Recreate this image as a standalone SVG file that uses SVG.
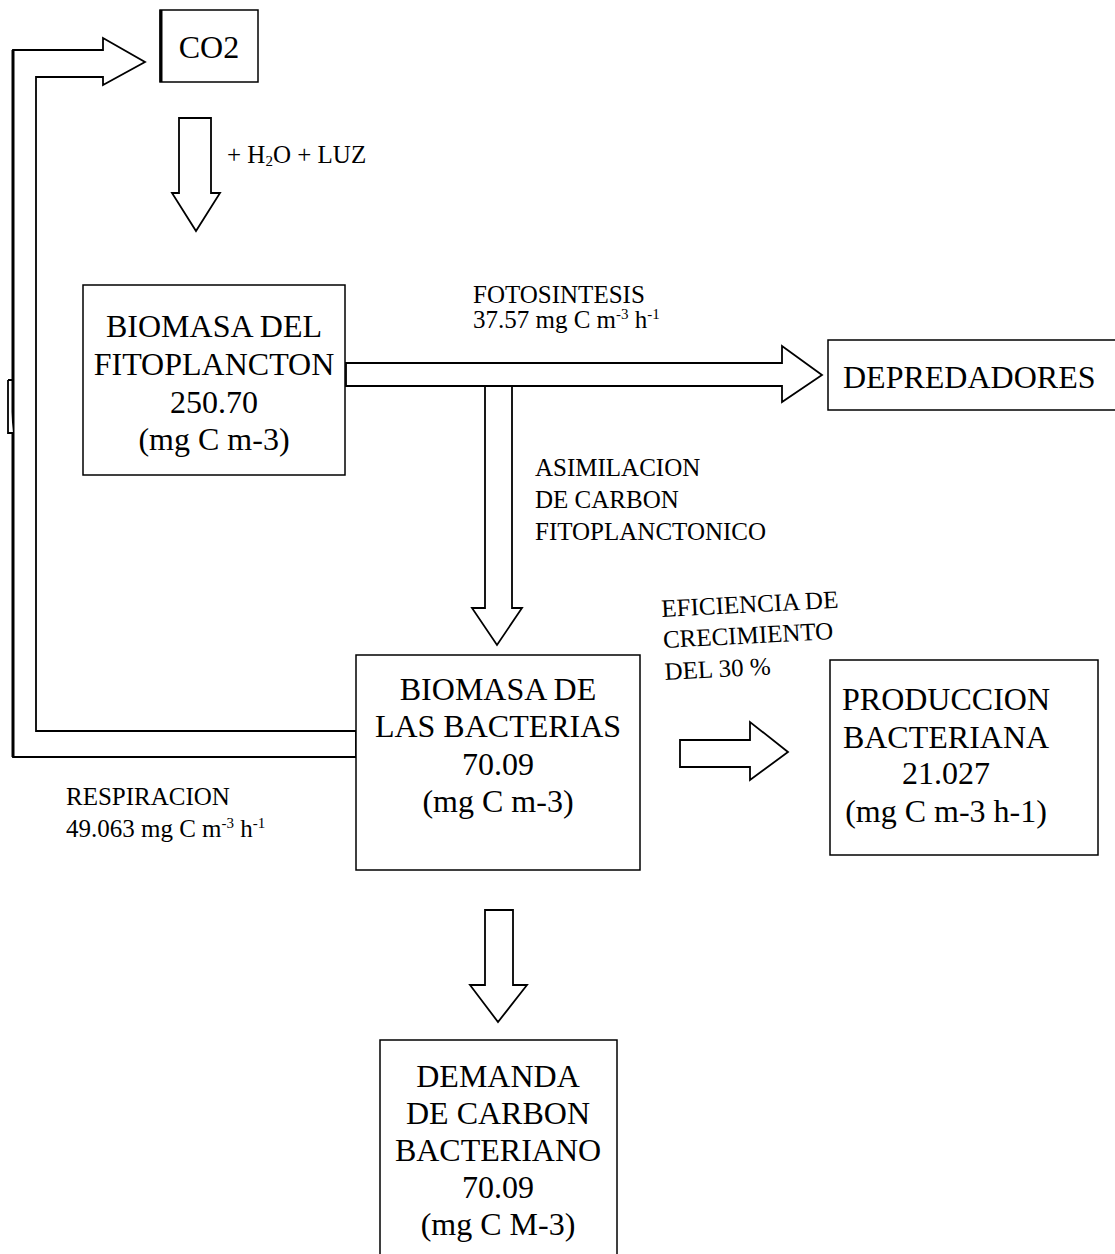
<svg xmlns="http://www.w3.org/2000/svg" width="1115" height="1254" viewBox="0 0 1115 1254">
<style>
.box{fill:#fff;stroke:#000;stroke-width:1.5}
.arrow{fill:#fff;stroke:#000;stroke-width:1.8;stroke-linejoin:miter}
.t{font-family:"Liberation Serif","Times New Roman",serif;fill:#000}
.big{font-size:32px}
.mid{font-size:25px}
.sup{font-size:15px}
.c{text-anchor:middle}
</style>
<rect width="1115" height="1254" fill="#fff"/>
<g id="connectors">
  <path class="arrow" d="M13,757 L13,50 L103,50 L103,38 L145,62 L103,85 L103,77 L36,77 L36,731 L356,731 L356,757 Z"/>
  <line x1="13" y1="50" x2="13" y2="757" stroke="#000" stroke-width="3"/>
  <path class="arrow" d="M8,380 L13,380 M8,380 L8,433 L13,433" fill="none"/>
  <path class="arrow" d="M179,118 L211,118 L211,193 L220,193 L196,231 L172,193 L179,193 Z"/>
  <path class="arrow" d="M346,363 L782,363 L782,346 L822,375 L782,402 L782,386 L346,386 Z"/>
  <path class="arrow" d="M485,386 L512,386 L512,608 L522,608 L497,645 L472,608 L485,608 Z"/>
  <path class="arrow" d="M680,740 L750,740 L750,722 L788,752 L750,780 L750,767 L680,767 Z"/>
  <path class="arrow" d="M485,910 L513,910 L513,985 L527,985 L498,1022 L470,985 L485,985 Z"/>
</g>
<g id="co2">
  <rect class="box" x="160" y="10" width="98" height="72"/>
  <line x1="161" y1="10" x2="161" y2="82" stroke="#000" stroke-width="3"/>
  <text class="t c" x="209" y="58" font-size="32">CO2</text>
</g>
<g id="lbl-h2o">
  <text class="t" x="227" y="163" font-size="25">+ H<tspan class="sup" dy="3">2</tspan><tspan dy="-3">O + LUZ</tspan></text>
</g>
<g id="fitoplancton">
  <rect class="box" x="83" y="285" width="262" height="190"/>
  <text class="t big c" x="214" y="337">BIOMASA DEL</text>
  <text class="t big c" x="214" y="375">FITOPLANCTON</text>
  <text class="t big c" x="214" y="413">250.70</text>
  <text class="t big c" x="214" y="450">(mg C m-3)</text>
</g>
<g id="lbl-fotosintesis">
  <text class="t mid" x="473" y="303">FOTOSINTESIS</text>
  <text class="t mid" x="473" y="328">37.57 mg C m<tspan class="sup" dy="-9">-3</tspan><tspan dy="9"> h</tspan><tspan class="sup" dy="-9">-1</tspan></text>
</g>
<g id="depredadores">
  <rect class="box" x="828" y="340" width="290" height="70"/>
  <text class="t big" x="843" y="388">DEPREDADORES</text>
</g>
<g id="lbl-asimilacion">
  <text class="t mid" x="535" y="476">ASIMILACION</text>
  <text class="t mid" x="535" y="508">DE CARBON</text>
  <text class="t mid" x="535" y="540">FITOPLANCTONICO</text>
</g>
<g id="bacterias">
  <rect class="box" x="356" y="655" width="284" height="215"/>
  <text class="t big c" x="498" y="700">BIOMASA DE</text>
  <text class="t big c" x="498" y="737">LAS BACTERIAS</text>
  <text class="t big c" x="498" y="775">70.09</text>
  <text class="t big c" x="498" y="812">(mg C m-3)</text>
</g>
<g id="lbl-eficiencia" transform="rotate(-3 663 640)">
  <text class="t mid" x="663" y="617">EFICIENCIA DE</text>
  <text class="t mid" x="663" y="648">CRECIMIENTO</text>
  <text class="t mid" x="663" y="680">DEL 30 %</text>
</g>
<g id="produccion">
  <rect class="box" x="830" y="660" width="268" height="195"/>
  <text class="t big c" x="946" y="710">PRODUCCION</text>
  <text class="t big c" x="946" y="748">BACTERIANA</text>
  <text class="t big c" x="946" y="784">21.027</text>
  <text class="t big c" x="946" y="822">(mg C m-3 h-1)</text>
</g>
<g id="lbl-respiracion">
  <text class="t mid" x="66" y="805">RESPIRACION</text>
  <text class="t mid" x="66" y="837">49.063 mg C m<tspan class="sup" dy="-9">-3</tspan><tspan dy="9"> h</tspan><tspan class="sup" dy="-9">-1</tspan></text>
</g>
<g id="demanda">
  <rect class="box" x="380" y="1040" width="237" height="220"/>
  <text class="t big c" x="498" y="1087">DEMANDA</text>
  <text class="t big c" x="498" y="1124">DE CARBON</text>
  <text class="t big c" x="498" y="1161">BACTERIANO</text>
  <text class="t big c" x="498" y="1198">70.09</text>
  <text class="t big c" x="498" y="1235">(mg C M-3)</text>
</g>
</svg>
